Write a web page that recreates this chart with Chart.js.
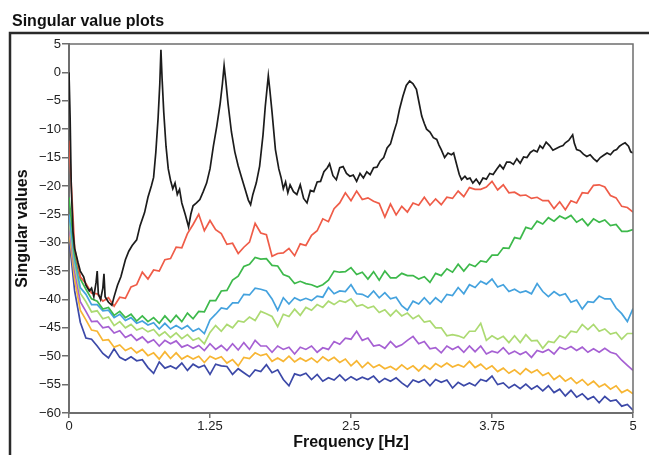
<!DOCTYPE html>
<html>
<head>
<meta charset="utf-8">
<script src="https://cdn.jsdelivr.net/npm/chart.js@4.4.1/dist/chart.umd.min.js"></script>
<style>
  html, body { margin: 0; padding: 0; background: #fff; }
  canvas { display: block; }
</style>
</head>
<body>
<canvas id="svChart" width="649" height="455"></canvas>
<script>
// frequency grid [Hz] for the coloured singular values
var freq = [
  0, 0.05, 0.1, 0.15, 0.2, 0.25, 0.3, 0.35, 0.4, 0.45,
  0.5, 0.55, 0.6, 0.65, 0.7, 0.75, 0.8, 0.85, 0.9, 0.95,
  1, 1.05, 1.1, 1.15, 1.2, 1.25, 1.3, 1.35, 1.4, 1.45,
  1.5, 1.55, 1.6, 1.65, 1.7, 1.75, 1.8, 1.85, 1.9, 1.95,
  2, 2.05, 2.1, 2.15, 2.2, 2.25, 2.3, 2.35, 2.4, 2.45,
  2.5, 2.55, 2.6, 2.65, 2.7, 2.75, 2.8, 2.85, 2.9, 2.95,
  3, 3.05, 3.1, 3.15, 3.2, 3.25, 3.3, 3.35, 3.4, 3.45,
  3.5, 3.55, 3.6, 3.65, 3.7, 3.75, 3.8, 3.85, 3.9, 3.95,
  4, 4.05, 4.1, 4.15, 4.2, 4.25, 4.3, 4.35, 4.4, 4.45,
  4.5, 4.55, 4.6, 4.65, 4.7, 4.75, 4.8, 4.85, 4.9, 4.95,
  5
];

// first singular value has sharp peaks, so it gets its own (denser) grid
var freqFirst = [
  0, 0.01, 0.02, 0.035, 0.05, 0.08, 0.1, 0.13, 0.15, 0.18,
  0.2, 0.22, 0.24, 0.25, 0.26, 0.28, 0.3, 0.31, 0.32, 0.35,
  0.38, 0.4, 0.43, 0.46, 0.5, 0.53, 0.56, 0.6, 0.63, 0.67,
  0.7, 0.73, 0.75, 0.77, 0.79, 0.805, 0.815, 0.825, 0.84, 0.86,
  0.88, 0.9, 0.92, 0.94, 0.96, 0.98, 1, 1.03, 1.06, 1.08,
  1.1, 1.13, 1.16, 1.19, 1.22, 1.25, 1.28, 1.31, 1.34, 1.36,
  1.375, 1.39, 1.41, 1.44, 1.47, 1.5, 1.53, 1.56, 1.59, 1.61,
  1.63, 1.66, 1.69, 1.72, 1.74, 1.755, 1.767, 1.78, 1.8, 1.83,
  1.86, 1.88, 1.9, 1.92, 1.94, 1.96, 1.99, 2.02, 2.05, 2.08,
  2.11, 2.14, 2.17, 2.2, 2.23, 2.26, 2.29, 2.31, 2.34, 2.37,
  2.4, 2.43, 2.46, 2.49, 2.52, 2.55, 2.58, 2.61, 2.64, 2.67,
  2.7, 2.73, 2.76, 2.79, 2.82, 2.85, 2.88, 2.905, 2.93, 2.96,
  2.99, 3.02, 3.05, 3.08, 3.1, 3.127, 3.15, 3.17, 3.2, 3.23,
  3.26, 3.28, 3.3, 3.33, 3.36, 3.39, 3.41, 3.44, 3.46, 3.48,
  3.51, 3.53, 3.555, 3.58, 3.61, 3.64, 3.67, 3.7, 3.73, 3.76,
  3.79, 3.82, 3.85, 3.88, 3.91, 3.94, 3.97, 4, 4.03, 4.06,
  4.09, 4.12, 4.15, 4.175, 4.2, 4.23, 4.26, 4.29, 4.32, 4.35,
  4.38, 4.4, 4.43, 4.465, 4.48, 4.5, 4.53, 4.56, 4.59, 4.62,
  4.65, 4.68, 4.71, 4.74, 4.77, 4.8, 4.83, 4.855, 4.88, 4.91,
  4.93, 4.96, 4.98, 5
];
var sv1 = [
  0, -8, -20, -28, -31, -33.5, -35, -36, -37.5, -38.5,
  -38, -39.5, -37, -35, -39, -40, -38, -35.5, -39.5, -40.5,
  -41, -39.5, -37.5, -36, -33, -31.5, -30.5, -29.5, -27, -24.7,
  -22, -20, -18.5, -14, -8, -2, 4, -1, -7, -13,
  -17, -19, -20.5, -19.5, -21.5, -20.6, -23, -25, -27.2, -25,
  -23.5, -23, -22.4, -21, -19.5, -17, -13, -9.5, -5.5, -2,
  1.2, -1.5, -5.5, -10.5, -14, -16.5, -18.5, -20.5, -22.5, -23.3,
  -21.5, -19.5, -16.5, -11, -6, -3, -0.6, -3, -7, -13.6,
  -17, -18.5, -20.5, -19.3, -21.2, -19.8, -21, -21.5, -19.8, -22.2,
  -23, -20.8, -21, -19.3, -19.2, -17.5, -16.8, -16.1, -18.2, -18.9,
  -16.8, -16.6, -17.8, -18.3, -18.1, -19.2, -17.8, -18.6, -17.5, -18,
  -16.8, -16.7, -15.6, -15, -13.3, -12.6, -10.5, -8.9, -6.5, -4.2,
  -2.3, -1.5, -2, -3, -5, -7.7, -9, -10, -10.5, -11.5,
  -11.8, -12.8, -13.6, -15, -14.2, -14.5, -14.2, -16.5, -18, -18.9,
  -18.3, -18.8, -18.6, -19.5, -18.8, -19.7, -18.6, -18.8, -17.8, -18,
  -17.1, -16.3, -17, -15.8, -15.8, -16.2, -15.2, -16, -14.9, -15,
  -14.1, -13.7, -14, -12.9, -13.4, -12.3, -12.9, -13.7, -13.4, -13.1,
  -12.9, -12.4, -12, -11, -12.5, -13.6, -13.8, -14.4, -14.8, -14.5,
  -15.2, -15.7, -15, -14.6, -14.2, -14.5, -13.8, -13.6, -13, -12.6,
  -12.4, -13, -14, -14.2
];

var sv2 = [
  -12, -31, -36, -37.2, -38.9, -39, -40.3, -39.7, -41.2, -39.6,
  -39.8, -37.8, -37.4, -35.2, -36.4, -34.8, -35, -33, -32.8, -30.8,
  -30.9, -28.4, -26.8, -25, -27.9, -26.1, -27.7, -28.4, -30.3, -30.1,
  -31.9, -30.8, -29.9, -26.6, -28.3, -28.6, -32.4, -31.9, -31.8, -31,
  -32.3, -30.2, -30.5, -28.7, -27.9, -25.8, -26.3, -24, -23, -21.2,
  -22.6, -20.9, -22.4, -22.1, -22.7, -23.1, -25.5, -23.2, -25.1, -23.6,
  -24.6, -23, -23.4, -22, -23.4, -22.3, -23.3, -22, -22.2, -20.9,
  -21.9, -20.3, -20.6, -20.6, -20.2, -19.2, -20.7, -19.8, -21.2, -21.1,
  -21.7, -21.6, -22.2, -22, -22.6, -22.6, -24, -22.8, -24.2, -22.6,
  -23, -21.2, -21.3, -19.9, -19.8, -20.2, -21.7, -22.1, -23.6, -23.8,
  -24.6
];
var sv3 = [
  -22, -32, -36.4, -38.2, -39.9, -40.3, -41.7, -41.4, -42.8, -42.1,
  -43.2, -42.6, -43.8, -42.9, -43.9, -43.2, -44.2, -42.9, -44, -42.8,
  -43.9, -42.4, -43.4, -42.1, -42.2, -40.2, -40.2, -38.5, -38.4, -36.6,
  -35.9, -34.2, -33.8, -32.6, -32.9, -32.8, -34, -34.1, -35.6, -36,
  -37.2, -36.8, -37.2, -37.4, -37.8, -37.4, -36.6, -35, -35.2, -35.1,
  -34.4, -35.6, -35.2, -36.4, -35.1, -36.6, -35, -36.2, -36.2, -35.4,
  -35.8, -35.8, -36.4, -36, -37, -35.4, -35.8, -34.6, -35.2, -33.8,
  -35, -33.8, -34.2, -33.2, -33.4, -32.2, -32.2, -30.9, -31, -29.1,
  -29.3, -27.3, -27.6, -26.2, -26.7, -25.6, -26.2, -25.3, -25.8, -25.2,
  -26.4, -25.8, -27, -25.8, -26.4, -26, -27, -26.8, -28, -28,
  -27.7
];
var sv4 = [
  -25, -33, -37.9, -39.1, -40.9, -40.9, -42, -41.9, -43.2, -42.6,
  -43.7, -43.2, -44.2, -43.8, -44.5, -44.1, -45.2, -44.2, -45.2, -44.6,
  -45.2, -44.6, -45.6, -45.1, -46, -43.6, -42.6, -41.5, -41.7, -40.6,
  -40.6, -39.1, -39.2, -38, -38.2, -38.5, -39.9, -41.9, -39.7, -40.8,
  -39.7, -40.2, -39.8, -40.2, -39.4, -39.6, -37.9, -39, -38.5, -38.6,
  -37.4, -39, -39.1, -39.6, -38.5, -39.7, -38.8, -39.9, -39.6, -41.1,
  -41.9, -40.3, -40.8, -39.7, -40.8, -39.7, -40.5, -39.1, -39.3, -37.9,
  -39, -37.4, -37.9, -36.8, -37.3, -36.4, -37.8, -37.4, -38.6, -38.2,
  -38.8, -38.5, -39, -37.2, -38.6, -39.5, -38.6, -39.3, -39, -40.5,
  -40.1, -41.7, -40.4, -40.5, -39.4, -39.9, -39.9, -41.5, -42.5, -43.9,
  -41.6
];
var sv5 = [
  -26, -34, -38.9, -40.4, -42.2, -42, -43.4, -43.1, -44.6, -43.9,
  -45, -44.4, -45.4, -45, -45.7, -45.3, -46.4, -45.7, -46.7, -45.9,
  -46.9, -46.2, -47.2, -46.8, -47.8, -45.8, -44.6, -45.6, -44.4, -45,
  -43.8, -44, -43.1, -43.7, -42.1, -42.5, -43, -44.8, -42.6, -43,
  -41.7, -42.8, -41.4, -41.9, -40.9, -41.4, -40.3, -40.9, -40.2, -40.5,
  -39.9, -41.2, -40.9, -41.5, -41.2, -42.3, -41.8, -42.9, -41.9, -42.9,
  -42.4, -43.4, -42.8, -44, -43.8, -45, -45, -46.4, -46.2, -46.4,
  -46.8, -45.6, -45.6, -44.2, -47.2, -46.4, -47, -46.5, -47.6, -46.4,
  -47.6, -46.2, -47.3, -47.2, -48.6, -47.4, -47.6, -46.4, -46.8, -45.6,
  -45.8, -44.4, -45.3, -44.4, -45.6, -45.2, -46.1, -45.8, -47, -46,
  -46
];
var sv6 = [
  -27, -35, -40.4, -42.1, -43.9, -43.8, -45, -44.8, -45.9, -45.5,
  -46.7, -46.2, -47.2, -46.6, -47.6, -47.1, -48.2, -47.2, -47.8, -47.3,
  -48.4, -48, -48.6, -48.1, -49, -47.8, -48.8, -48.1, -49, -47.8,
  -48.9, -47.6, -48.8, -47.2, -48.2, -48.2, -49.3, -48.2, -48.8, -48.4,
  -49.6, -48.4, -48.8, -48.2, -49.3, -48.5, -48.8, -47.4, -47.9, -46.8,
  -47, -45.6, -47.2, -46.8, -48.2, -48, -48.6, -47.4, -48.4, -48,
  -47.2, -46.5, -47.8, -47.4, -48.7, -48.5, -49.4, -48.2, -48.8, -48.3,
  -49.3, -48.2, -49.2, -48.2, -49.6, -49.1, -49.4, -48.5, -49.6, -49.1,
  -49.7, -49.2, -50.2, -49, -49.3, -48.8, -49.6, -48.4, -48.8, -48.3,
  -49, -48.4, -49.3, -48.7, -49.3, -48.6, -49.3, -49.6, -50.7, -51.6,
  -52.5
];
var sv7 = [
  -28, -36.5, -41.9, -43.6, -45.4, -45.6, -47.2, -47.1, -48.4, -48,
  -49, -48.5, -49.4, -48.8, -49.9, -49.4, -50.5, -49.2, -50.4, -49.4,
  -50.5, -49.9, -50.5, -50, -51.1, -50, -50.5, -50.1, -51.2, -50.6,
  -51.7, -50.2, -50.4, -49.4, -49.9, -49.6, -50.9, -50.3, -50.9, -50,
  -51, -50.3, -50.9, -50.3, -51.1, -50.1, -50.8, -50.2, -51.1, -50.5,
  -51.7, -50.8, -52, -51.1, -52, -51.5, -52.2, -51.8, -52.4, -51.5,
  -52.3, -51.7, -52.6, -51.6, -52.3, -51.3, -51.9, -51.2, -51.9, -51.5,
  -51.9, -50.9, -52, -51.4, -52.3, -51.7, -52.7, -52.1, -53, -52.4,
  -53.2, -52.2, -52.9, -52.4, -53.4, -52.9, -54.1, -53.4, -54.4, -53.8,
  -54.8, -54.1, -55.1, -54.4, -55.4, -54.9, -55.8, -55.2, -56.4, -55.9,
  -56.6
];
var sv8 = [
  -29, -38.5, -44, -46.8, -47, -48.2, -49.5, -50.3, -48.7, -50.2,
  -50.7, -50.1, -50.8, -50.6, -52, -53, -51, -52.1, -51.7, -52.2,
  -51.2, -52.5, -51.4, -52, -51.6, -53.2, -51.4, -51.7, -51.8, -53.2,
  -52.2, -52.9, -53.6, -52.4, -52.7, -51.5, -52.9, -52.4, -54.1, -55.2,
  -53.1, -53.4, -53, -54.1, -53.2, -54.4, -53.8, -54.2, -53.3, -54.3,
  -53.6, -54.2, -53.7, -54.1, -53.5, -54.6, -53.9, -54.4, -53.8, -54.7,
  -55.4, -54.2, -54.6, -54.1, -55.2, -54.1, -54.6, -54.2, -55.6, -54.6,
  -55.2, -54.7, -55.2, -54.1, -54.4, -53.5, -55, -54.7, -55.6, -55,
  -55.7, -54.9, -55.8, -55.2, -56.1, -55.2, -56.4, -55.8, -57, -56,
  -57.2, -56.6, -57.6, -57.1, -58.2, -57.1, -57.9, -57.7, -58.8, -58.5,
  -59.5
];

var seriesColors = ['#1c1c1c', '#ef5c48', '#3db94b', '#44a2de', '#acda72', '#a660d3', '#f7b634', '#3c49a8'];

var xTickValues = [0, 1.25, 2.5, 3.75, 5];
var xTickLabels = ['0', '1.25', '2.5', '3.75', '5'];
var yTickValues = [-60, -55, -50, -45, -40, -35, -30, -25, -20, -15, -10, -5, 0, 5];
var yTickLabels = ['\u221260', '\u221255', '\u221250', '\u221245', '\u221240', '\u221235', '\u221230',
                   '\u221225', '\u221220', '\u221215', '\u221210', '\u22125', '0', '5'];

function toPoints(xs, ys) {
  return xs.map(function (x, i) { return { x: x, y: ys[i] }; });
}

var allSeries = [
  toPoints(freqFirst, sv1),
  toPoints(freq, sv2),
  toPoints(freq, sv3),
  toPoints(freq, sv4),
  toPoints(freq, sv5),
  toPoints(freq, sv6),
  toPoints(freq, sv7),
  toPoints(freq, sv8)
];

var datasets = allSeries.map(function (pts, i) {
  return {
    label: 'SV ' + (i + 1),
    data: pts,
    borderColor: seriesColors[i],
    borderWidth: 1.7,
    pointRadius: 0,
    tension: 0,
    fill: false
  };
});

// title, outer panel frame and the top/right edges of the plot box
var framePlugin = {
  id: 'framePlugin',
  beforeDraw: function (chart) {
    var c = chart.ctx;
    c.save();
    c.fillStyle = '#fff';
    c.fillRect(0, 0, chart.width, chart.height);
    c.strokeStyle = '#2a2a2a';
    c.lineWidth = 2.5;
    c.beginPath();
    c.moveTo(10, chart.height);
    c.lineTo(10, 33);
    c.lineTo(chart.width, 33);
    c.stroke();
    c.fillStyle = '#111';
    c.font = 'bold 16px "Liberation Sans", Arial, sans-serif';
    c.textBaseline = 'alphabetic';
    c.fillText('Singular value plots', 12, 26);
    c.restore();
  },
  afterDraw: function (chart) {
    var a = chart.chartArea;
    var c = chart.ctx;
    c.save();
    c.strokeStyle = '#6e6e6e';
    c.lineWidth = 1.5;
    c.beginPath();
    c.moveTo(a.left, a.top);
    c.lineTo(a.right, a.top);
    c.lineTo(a.right, a.bottom);
    c.stroke();
    c.restore();
  }
};

var tickFont = { family: '"Liberation Sans", Arial, sans-serif', size: 13 };
var titleFont = { family: '"Liberation Sans", Arial, sans-serif', size: 16, weight: 'bold' };

var ctx = document.getElementById('svChart');
var svChart = new Chart(ctx, {
  type: 'line',
  data: { datasets: datasets },
  plugins: [framePlugin],
  options: {
    responsive: false,
    animation: false,
    layout: { padding: { left: 0, right: 16, top: 44, bottom: 0 } },
    plugins: {
      legend: { display: false },
      tooltip: { enabled: false }
    },
    scales: {
      x: {
        type: 'linear',
        min: 0,
        max: 5,
        afterBuildTicks: function (scale) {
          scale.ticks = xTickValues.map(function (v) { return { value: v }; });
        },
        afterFit: function (scale) { scale.height = 42; },
        ticks: {
          color: '#222',
          font: tickFont,
          padding: 1,
          maxRotation: 0,
          autoSkip: false,
          callback: function (v, i) { return xTickLabels[i]; }
        },
        grid: { drawOnChartArea: false, tickLength: 5, color: '#6e6e6e', lineWidth: 1.5 },
        border: { color: '#6e6e6e', width: 2 },
        title: { display: true, text: 'Frequency [Hz]', color: '#111', font: titleFont, padding: { top: 0, bottom: 3 } }
      },
      y: {
        min: -60,
        max: 5,
        afterBuildTicks: function (scale) {
          scale.ticks = yTickValues.map(function (v) { return { value: v }; });
        },
        afterFit: function (scale) { scale.width = 69; },
        ticks: {
          color: '#222',
          font: tickFont,
          padding: 1,
          autoSkip: false,
          callback: function (v, i) { return yTickLabels[i]; }
        },
        grid: { drawOnChartArea: false, tickLength: 7, color: '#6e6e6e', lineWidth: 1.5 },
        border: { color: '#6e6e6e', width: 2 },
        title: { display: true, text: 'Singular values', color: '#111', font: titleFont, padding: { top: 13, bottom: 0 } }
      }
    }
  }
});
</script>
</body>
</html>
